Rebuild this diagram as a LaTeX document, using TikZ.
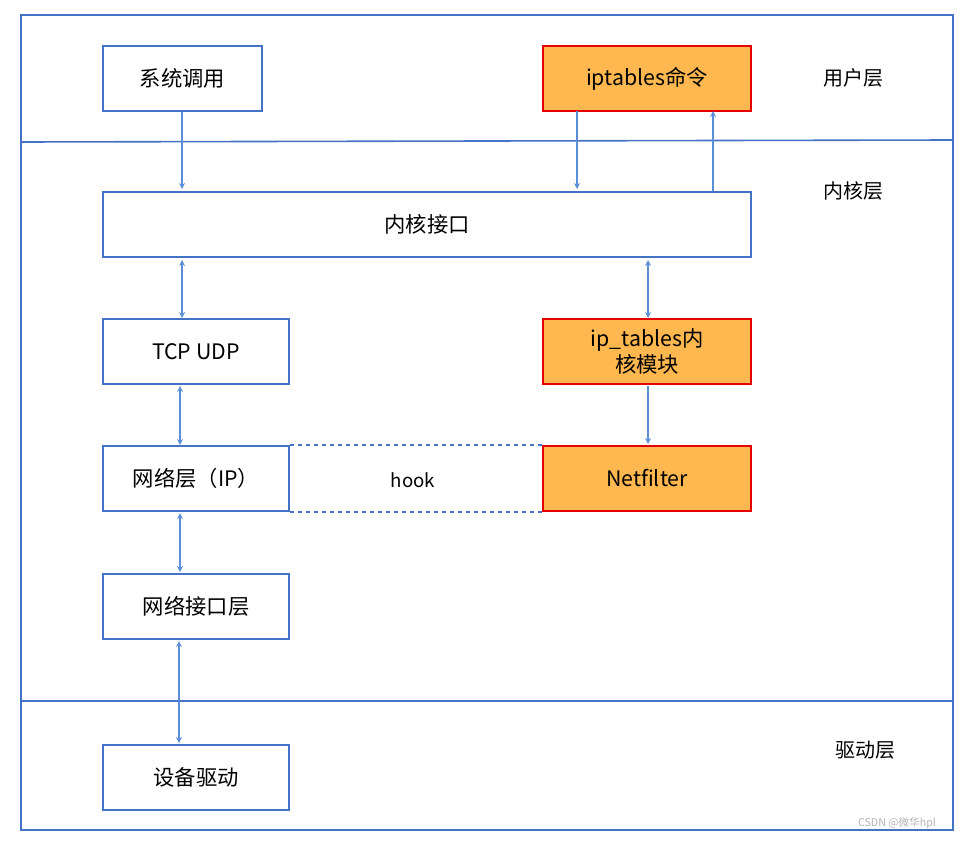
\documentclass[tikz,border=0pt]{standalone}
\usepackage{fontspec}
\setmainfont{Noto Sans CJK SC}
\begin{document}
\begin{tikzpicture}[x=0.75pt,y=-0.75pt,
  box/.style={draw=frame,line width=1.2pt,fill=white,minimum height=49pt,inner sep=0pt,font=\fontsize{16}{18}\selectfont},
  hot/.style={box,draw=red!90!black,fill=orangefill},
  ar/.style={draw=arrowc,line width=1pt,-stealth},
  dar/.style={draw=arrowc,line width=1pt,stealth-stealth},
  lay/.style={font=\fontsize{15}{17}\selectfont}]
\definecolor{frame}{HTML}{4472C4}
\definecolor{arrowc}{HTML}{5B8ED8}
\definecolor{orangefill}{HTML}{FFB84F}
\useasboundingbox (0,0) rectangle (964,842);
\draw[frame,line width=1.2pt] (21,15) rectangle (953,830);
\draw[frame,line width=1.2pt] (21,142) -- (953,140);
\draw[frame,line width=1.2pt] (21,701) -- (953,701);
\node[box,minimum width=119.25pt] (sys) at (182.5,78.5) {系统调用};
\node[hot,minimum width=156pt] (ipt) at (647,78.5) {iptables命令};
\node[box,minimum width=486pt] (ki) at (427,224.5) {内核接口};
\node[box,minimum width=139.5pt] (tcp) at (196,351.5) {TCP UDP};
\node[hot,minimum width=156pt,align=center,font=\fontsize{16}{19}\selectfont] (ipm) at (647,351.5) {ip\_tables内\\核模块};
\node[box,minimum width=139.5pt] (ip) at (196,478.5) {网络层（IP）};
\node[hot,minimum width=156pt] (nf) at (647,478.5) {Netfilter};
\node[box,minimum width=139.5pt] (nil) at (196,606.5) {网络接口层};
\node[box,minimum width=139.5pt] (dev) at (196,777.5) {设备驱动};
\node[lay] (l1) at (853,78) {用户层};
\node[lay] (l2) at (853,191) {内核层};
\node[lay] (l3) at (865,750) {驱动层};
\node[font=\fontsize{14}{16}\selectfont] (hook) at (413,480) {hook};
\node[font=\fontsize{8}{9}\selectfont,text=gray!60] (wm) at (897,823) {CSDN @微华hpl};
\draw[frame,line width=1pt,dashed] (ip.north east) -- (nf.north west);
\draw[frame,line width=1pt,dashed] (ip.south east) -- (nf.south west);
\draw[ar] (sys.south -| 182,0) -- (182,189);
\draw[ar] (577,111) -- (577,189);
\draw[ar] (713,191) -- (713,111);
\draw[dar] (182,260) -- (182,318);
\draw[dar] (648,260) -- (648,318);
\draw[ar] (648,386) -- (648,444);
\draw[dar] (180,386) -- (180,445);
\draw[dar] (180,513) -- (180,572);
\draw[dar] (179,641) -- (179,743);
\end{tikzpicture}
\end{document}
